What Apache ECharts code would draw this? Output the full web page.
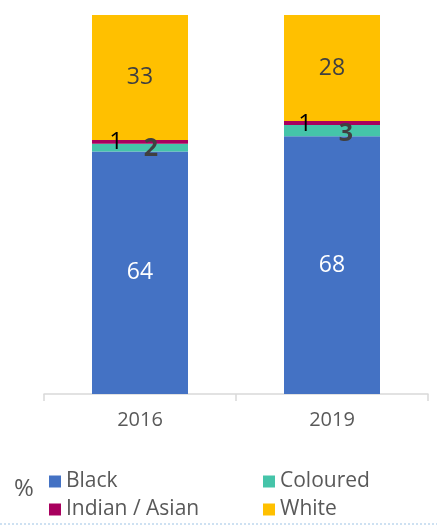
<!DOCTYPE html>
<html>
<head>
<meta charset="utf-8">
<script src="https://cdn.jsdelivr.net/npm/echarts@6/dist/echarts.min.js"></script>
<style>html,body{margin:0;padding:0;background:#fff;}#c{width:437px;height:527px;}</style>
</head>
<body>
<div id="c"></div>
<script>
const categories = ['2016', '2019'];
const seriesNames = ['Black', 'Coloured', 'Indian / Asian', 'White'];
const black = [64, 68];
const coloured = [2, 3];
const indianAsian = [1, 1];
const white = [33, 28];
const unitLabel = '%';

const FONT = '"Open Sans", "DejaVu Sans", sans-serif';
const colors = ['#4472C4', '#45C4A9', '#A8005E', '#FFC000'];

const chart = echarts.init(document.getElementById('c'), null, {renderer: 'canvas'});

function mk(name, data, color, label, perItem) {
  return {
    name: name, type: 'bar', stack: 'total', barWidth: '50%',
    itemStyle: {color: color},
    label: Object.assign({show: true, position: 'inside', fontFamily: FONT}, label),
    data: data.map((v, i) => perItem ? Object.assign({value: v}, perItem(i)) : v),
    emphasis: {disabled: true}
  };
}

const legendPos = [[49, 471], [263, 471], [49, 499], [263, 499]];

const option = {
  animation: false,
  backgroundColor: '#fff',
  grid: {left: 44, right: 9, top: 15, bottom: 133},
  xAxis: {
    type: 'category', data: categories,
    axisLine: {lineStyle: {color: '#D9D9D9', width: 1.5}},
    axisTick: {show: true, length: 7, lineStyle: {color: '#D9D9D9', width: 1.5}},
    axisLabel: {color: '#595959', fontSize: 20, fontFamily: FONT, margin: 16}
  },
  yAxis: {type: 'value', min: 0, max: 100, show: false, splitLine: {show: false}},
  legend: seriesNames.map((n, i) => ({
    data: [n], left: legendPos[i][0], top: legendPos[i][1],
    itemWidth: 12, itemHeight: 12, icon: 'rect', padding: 0,
    textStyle: {color: '#595959', fontSize: 21, fontFamily: FONT},
    selectedMode: false
  })),
  graphic: [
    {type: 'text', left: 14, top: 477, style: {text: unitLabel, fill: '#595959', fontSize: 24, fontFamily: FONT}},
    {type: 'line', shape: {x1: 0, y1: 524, x2: 437, y2: 524}, style: {stroke: '#9DC3E6', lineWidth: 1, lineDash: [2, 2]}}
  ],
  series: [
    mk(seriesNames[0], black, colors[0], {color: '#fff', fontSize: 23}),
    mk(seriesNames[1], coloured, colors[1], {color: '#404040', fontSize: 25, fontWeight: 'bold'},
       i => ({label: {offset: i === 0 ? [11, 1] : [14, 3]}})),
    mk(seriesNames[2], indianAsian, colors[2], {color: '#000', fontSize: 24},
       i => ({label: {offset: i === 0 ? [-24, 0] : [-27, 1]}})),
    mk(seriesNames[3], white, colors[3], {color: '#404040', fontSize: 23})
  ]
};
chart.setOption(option);
</script>
</body>
</html>
